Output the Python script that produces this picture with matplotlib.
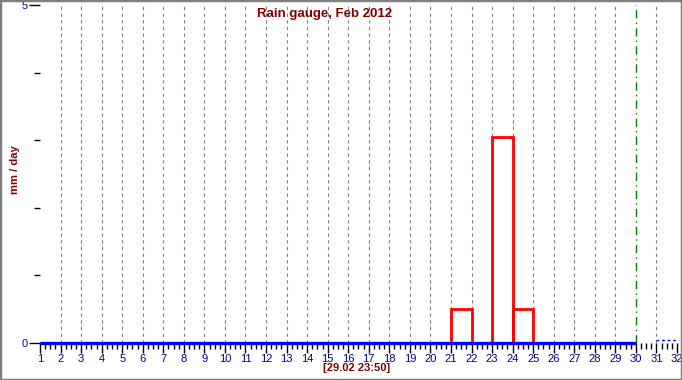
import numpy as np
import matplotlib.pyplot as plt
from matplotlib.patches import Rectangle

plt.rcParams['font.family'] = ['Liberation Sans', 'DejaVu Sans']

# daily rain, February 2012 (mm/day)
days = list(range(1, 30))
rain = [0, 0, 0, 0, 0, 0, 0, 0, 0, 0,
        0, 0, 0, 0, 0, 0, 0, 0, 0, 0,
        0.5, 0, 3.05, 0.5, 0, 0, 0, 0, 0]
x_labels = list(range(1, 33))
y_labels = [0, 5]
month_end = 30

dark_red = '#800000'
navy = '#000080'

fig = plt.figure(figsize=(6.82, 3.80), dpi=100)
fig.patches.append(Rectangle((0, 0), 1, 1, transform=fig.transFigure,
                             fill=False, edgecolor='#808080', lw=2.5))
ax = fig.add_axes([40/682, 1 - 343/380, 637/682, 338/380])
ax.set_xlim(1, 32)
ax.set_ylim(0, 5)
for s in ax.spines.values():
    s.set_visible(False)

# grid
for d in x_labels[1:-1]:
    if d == month_end:
        ax.axvline(d, color='#008000', lw=1, ls=(0, (6, 3, 1, 3)), zorder=1)
    else:
        ax.axvline(d, color='#808080', lw=0.8, ls=(0, (3, 3)), zorder=1)

# bars
ax.bar(days, rain, width=1, align='edge', fill=False, edgecolor='red',
       lw=2, zorder=2)

# baseline
ax.plot([1, month_end], [0, 0], color='#0000ff', lw=2.4,
        solid_capstyle='butt', zorder=3, clip_on=False)
ax.plot([31, 32], [0.05, 0.05], color='#0000ff', lw=1, ls=(0, (2, 2)),
        zorder=3, clip_on=False)

# ticks
ax.set_xticks(x_labels)
ax.set_xticklabels([str(v) for v in x_labels])
ax.set_xticks(np.arange(1, 32, 0.25), minor=True)
ax.set_yticks(y_labels)
ax.set_yticklabels([str(v) for v in y_labels])
ax.set_yticks(range(0, 6), minor=True)
ax.tick_params(axis='x', which='major', length=7, width=1, colors='black',
               labelcolor=navy, labelsize=8, pad=1)
ax.tick_params(axis='x', which='minor', length=4, width=1, colors='black')
ax.tick_params(axis='y', which='major', length=8, width=1, colors='black',
               labelcolor=navy, labelsize=8, pad=1)
ax.tick_params(axis='y', which='minor', length=4, width=1, colors='black')

fig.text(325/682, 1 - 14/380, 'Rain gauge, Feb 2012', color=dark_red,
         fontsize=9.5, fontweight='bold', ha='center', va='center')
fig.text(15/682, 1 - 170/380, 'mm / day', color=dark_red, fontsize=8,
         fontweight='bold', rotation=90, ha='center', va='center')
fig.text(357/682, 1 - 368/380, '[29.02 23:50]', color=dark_red, fontsize=8,
         fontweight='bold', ha='center', va='center')

fig.savefig('out.png', dpi=100)
